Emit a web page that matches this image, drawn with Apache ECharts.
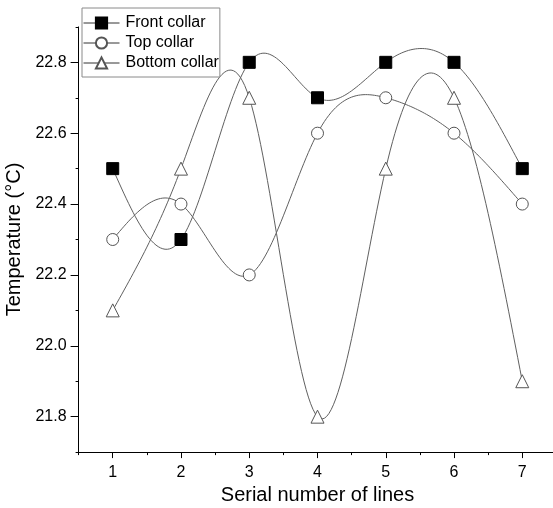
<!DOCTYPE html>
<html><head><meta charset="utf-8">
<script src="https://cdn.jsdelivr.net/npm/echarts@6/dist/echarts.min.js"></script>
<style>html,body{margin:0;padding:0;background:#fff}#c{width:553px;height:508px}</style>
</head><body><div id="c"></div>
<script>
const categories = ['1','2','3','4','5','6','7'];
const xValues = [1,2,3,4,5,6,7];
const yTickLabels = ['21.8','22.0','22.2','22.4','22.6','22.8'];
const seriesNames = ['Front collar','Top collar','Bottom collar'];
const frontCollar = [22.5,22.3,22.8,22.7,22.8,22.8,22.5];
const topCollar = [22.3,22.4,22.2,22.6,22.7,22.6,22.4];
const bottomCollar = [22.1,22.5,22.7,21.8,22.5,22.7,21.9];

const FONT = "'Liberation Sans', Arial, sans-serif";

function splineSecondDerivs(xs, ys) {
  const n = xs.length;
  const M = new Array(n).fill(0);
  if (n < 3) return M;
  const a = [], b = [], c = [], d = [];
  for (let i = 1; i < n - 1; i++) {
    const h0 = xs[i] - xs[i-1], h1 = xs[i+1] - xs[i];
    a.push(h0); b.push(2 * (h0 + h1)); c.push(h1);
    d.push(6 * ((ys[i+1] - ys[i]) / h1 - (ys[i] - ys[i-1]) / h0));
  }
  const m = b.length;
  for (let i = 1; i < m; i++) {
    const w = a[i] / b[i-1];
    b[i] -= w * c[i-1];
    d[i] -= w * d[i-1];
  }
  const sol = new Array(m);
  sol[m-1] = d[m-1] / b[m-1];
  for (let i = m - 2; i >= 0; i--) sol[i] = (d[i] - c[i] * sol[i+1]) / b[i];
  for (let i = 0; i < m; i++) M[i+1] = sol[i];
  return M;
}

function makeRenderer(ys) {
  const M = splineSecondDerivs(xValues, ys);
  return function (params, api) {
    const i = params.dataIndex;
    if (i >= xValues.length - 1) return null;
    const x0 = xValues[i], x1 = xValues[i+1], h = x1 - x0;
    const pts = [];
    const N = 30;
    for (let k = 0; k <= N; k++) {
      const x = x0 + h * k / N;
      const A = (x1 - x) / h, B = (x - x0) / h;
      const y = A * ys[i] + B * ys[i+1] + ((A*A*A - A) * M[i] + (B*B*B - B) * M[i+1]) * h * h / 6;
      pts.push(api.coord([x, y]));
    }
    return { type: 'polyline', silent: true, shape: { points: pts },
      style: { stroke: '#606060', lineWidth: 1, fill: null } };
  };
}

const allData = [frontCollar, topCollar, bottomCollar];
const symbols = ['rect', 'circle', 'triangle'];
const symbolSizes = [12, 12, 13];
const fills = ['#000', '#fff', '#fff'];
const borders = ['#000', '#555', '#555'];

const series = [];
allData.forEach((ys, s) => {
  series.push({
    type: 'custom', name: seriesNames[s] + ' curve', xAxisIndex: 1, yAxisIndex: 1,
    renderItem: makeRenderer(ys), z: 2,
    data: xValues.map((x, i) => [x, ys[i]]), encode: { x: 0, y: 1 }
  });
});
allData.forEach((ys, s) => {
  series.push({
    type: 'line', name: seriesNames[s], xAxisIndex: 1, yAxisIndex: 1, z: 5,
    data: xValues.map((x, i) => [x, ys[i]]),
    symbol: symbols[s], symbolSize: symbolSizes[s],
    itemStyle: { color: fills[s], borderColor: borders[s], borderWidth: 1, opacity: 1 },
    lineStyle: { opacity: 0, width: 1, color: '#333' },
    emphasis: { disabled: true }, animation: false
  });
});

const chart = echarts.init(document.getElementById('c'), null, { renderer: 'canvas' });
chart.setOption({
  animation: false,
  backgroundColor: '#fff',
  textStyle: { fontFamily: FONT },
  grid: { left: 78.6, right: -3.4, top: 26.9, bottom: 55.9, containLabel: false, outerBoundsMode: 'none' },
  legend: {
    data: seriesNames, orient: 'vertical', left: 82, top: 8,
    padding: [7, 1, 6, 1], itemGap: 4, itemWidth: 36, itemHeight: 14,
    backgroundColor: '#fff', borderColor: '#8a8a8a', borderWidth: 1,
    textStyle: { fontFamily: FONT, fontSize: 16, color: '#000', padding: [0, 0, 0, 1] },
    lineStyle: { opacity: 1, width: 1, color: '#333' },
    selectedMode: false
  },
  xAxis: [
    { type: 'category', data: categories, boundaryGap: true, position: 'bottom',
      name: 'Serial number of lines', nameLocation: 'middle', nameGap: 31,
      nameTextStyle: { fontFamily: FONT, fontSize: 20, color: '#000' },
      axisLine: { show: true, lineStyle: { color: '#000', width: 1 } },
      axisTick: { show: true, alignWithLabel: true, length: 6, lineStyle: { color: '#000' } },
      axisLabel: { fontFamily: FONT, fontSize: 16, color: '#000', margin: 12 },
      splitLine: { show: false } },
    { type: 'value', min: 0.5, max: 7.5, interval: 0.5, position: 'bottom',
      axisLine: { show: false }, axisTick: { show: true, length: 3, lineStyle: { color: '#000' } },
      axisLabel: { show: false }, splitLine: { show: false } }
  ],
  yAxis: [
    { type: 'category', data: yTickLabels, boundaryGap: true, position: 'left',
      name: 'Temperature (°C)', nameLocation: 'middle', nameGap: 46,
      nameTextStyle: { fontFamily: FONT, fontSize: 20, color: '#000' },
      axisLine: { show: true, lineStyle: { color: '#000', width: 1 } },
      axisTick: { show: true, alignWithLabel: true, length: 8, lineStyle: { color: '#000' } },
      axisLabel: { fontFamily: FONT, fontSize: 16, color: '#000', margin: 12 },
      splitLine: { show: false } },
    { type: 'value', min: 21.7, max: 22.9, interval: 0.1, position: 'left',
      axisLine: { show: false }, axisTick: { show: true, length: 3, lineStyle: { color: '#000' } },
      axisLabel: { show: false }, splitLine: { show: false } }
  ],
  series: series
});
</script></body></html>
